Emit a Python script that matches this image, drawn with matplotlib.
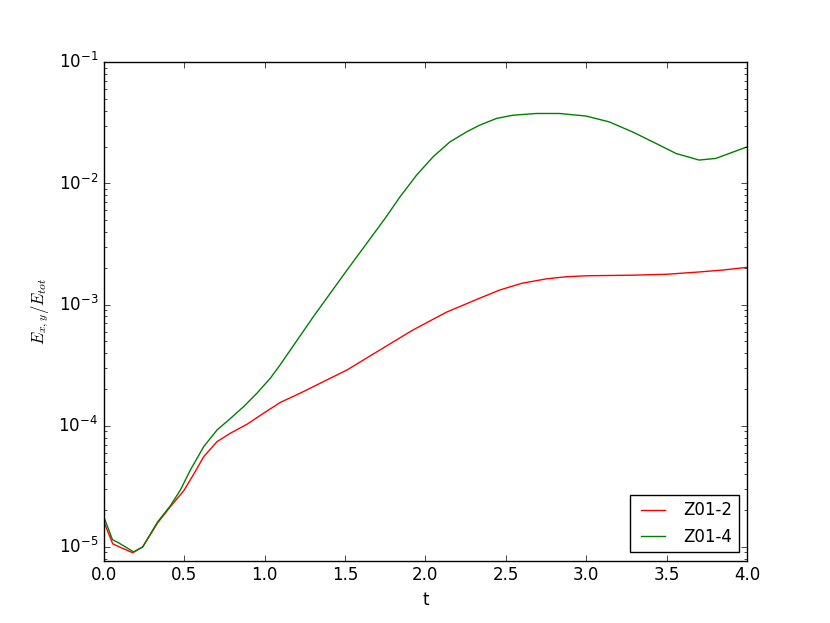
import numpy as np
import matplotlib
matplotlib.use('Agg')
import matplotlib.pyplot as plt

# energia trasversale normalizzata
t_z2 = [0.0, 0.056, 0.105, 0.18, 0.242, 0.335, 0.4155, 0.498, 0.56, 0.622,
        0.705, 0.788, 0.891, 0.994, 1.098, 1.222, 1.302, 1.513, 1.718, 1.922,
        2.133, 2.338, 2.462, 2.6, 2.75, 2.878, 3.0, 3.287, 3.5, 3.702, 3.85,
        4.0]
e_z2 = [1.62e-5, 1.06e-5, 9.9e-6, 8.96e-6, 1.0e-5, 1.58e-5, 2.16e-5, 2.92e-5,
        4.0e-5, 5.57e-5, 7.41e-5, 8.69e-5, 1.03e-4, 1.27e-4, 1.56e-4, 1.86e-4,
        2.1e-4, 2.89e-4, 4.23e-4, 6.17e-4, 8.69e-4, 1.13e-3, 1.32e-3, 1.5e-3,
        1.63e-3, 1.7e-3, 1.73e-3, 1.75e-3, 1.78e-3, 1.86e-3, 1.93e-3, 2.03e-3]

t_z4 = [0.0, 0.054, 0.093, 0.186, 0.242, 0.335, 0.4155, 0.477, 0.54, 0.622,
        0.705, 0.788, 0.87, 0.953, 1.036, 1.098, 1.302, 1.513, 1.749, 1.842,
        1.945, 2.048, 2.152, 2.255, 2.338, 2.442, 2.545, 2.69, 2.834, 3.0,
        3.144, 3.289, 3.434, 3.558, 3.702, 3.806, 3.981, 4.0]
e_z4 = [1.78e-5, 1.15e-5, 1.08e-5, 9.1e-6, 1.0e-5, 1.61e-5, 2.2e-5, 2.96e-5,
        4.35e-5, 6.74e-5, 9.25e-5, 1.15e-4, 1.44e-4, 1.86e-4, 2.47e-4, 3.2e-4,
        7.9e-4, 1.93e-3, 5.14e-3, 7.75e-3, 1.17e-2, 1.66e-2, 2.2e-2, 2.66e-2,
        3.03e-2, 3.44e-2, 3.66e-2, 3.78e-2, 3.78e-2, 3.6e-2, 3.22e-2, 2.66e-2,
        2.14e-2, 1.77e-2, 1.56e-2, 1.61e-2, 1.96e-2, 2.0e-2]

plt.style.use('classic')
fig = plt.figure(figsize=(8.3, 6.23), dpi=100)
ax = fig.add_subplot(111)

ax.semilogy(t_z2, e_z2, 'r-', label='Z01-2')
ax.semilogy(t_z4, e_z4, 'g-', label='Z01-4')

ax.set_xlim(0, 4)
ax.set_ylim(7.7e-6, 1e-1)
ax.set_xlabel('t')
ax.set_ylabel(r'$E_{x,y}/E_{tot}$')
ax.legend(loc='lower right', fontsize=12)

fig.savefig('out.png', dpi=100)
